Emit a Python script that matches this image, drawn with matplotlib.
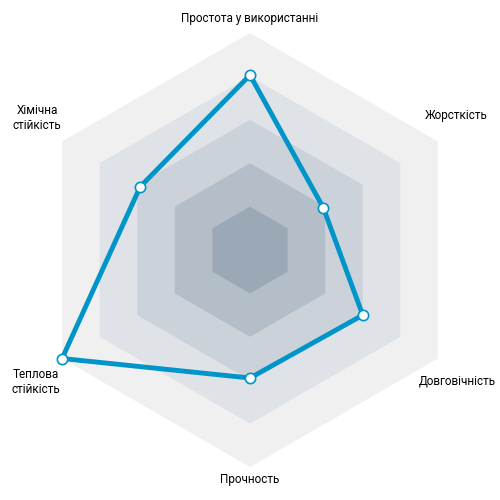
import numpy as np
import matplotlib
matplotlib.use("Agg")
import matplotlib.pyplot as plt
from matplotlib.patches import Polygon

categories = ["Простота у використанні", "Жорсткість", "Довговічність", "Прочность", "Теплова\nстійкість", "Хімічна\nстійкість"]
values = [4.03, 1.95, 3.0, 2.95, 5.0, 2.92]
max_val = 5
ring_colors = ["#f0f0f1", "#dfe2e6", "#ccd2d9", "#b4bec8", "#9ba8b5"]

fig = plt.figure(figsize=(5, 5), dpi=100)
ax = fig.add_axes([0, 0, 1, 1])
ax.set_xlim(-250, 250)
ax.set_ylim(-250, 250)
ax.set_aspect("equal")
ax.axis("off")

R = 217.0
angles = np.deg2rad(90 - 60 * np.arange(6))
for i, c in enumerate(ring_colors):
    r = R * (max_val - i) / max_val
    pts = np.column_stack([r * np.cos(angles), r * np.sin(angles)])
    ax.add_patch(Polygon(pts, closed=True, facecolor=c, edgecolor="none"))

v = np.array(values) / max_val * R
xs = v * np.cos(angles)
ys = v * np.sin(angles)
ax.plot(np.append(xs, xs[0]), np.append(ys, ys[0]), color="#0095c8", lw=3.5, zorder=3)
ax.scatter(xs, ys, s=55, facecolor="white", edgecolor="#0095c8", linewidths=1.2, zorder=4)

fs = 8.5
ax.text(0, 225, categories[0], ha="center", va="bottom", fontsize=fs, family="Roboto")
ax.text(206, 135, categories[1], ha="center", va="center", fontsize=fs, family="Roboto")
ax.text(246, -131, categories[2], ha="right", va="center", fontsize=fs, family="Roboto")
ax.text(0, -223, categories[3], ha="center", va="top", fontsize=fs, family="Roboto")
ax.text(-214, -132, categories[4], ha="center", va="center", fontsize=fs, family="Roboto")
ax.text(-213, 132, categories[5], ha="center", va="center", fontsize=fs, family="Roboto")

fig.savefig("out.png", dpi=100)
